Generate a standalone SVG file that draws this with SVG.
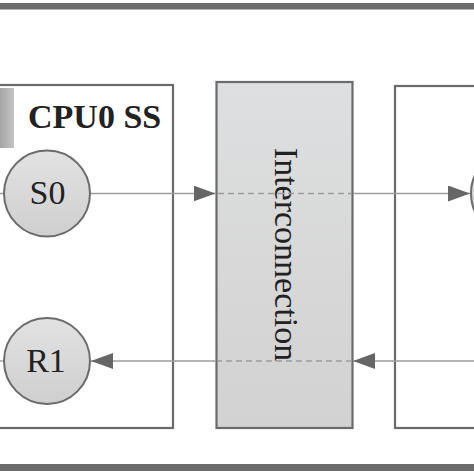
<svg xmlns="http://www.w3.org/2000/svg" width="474" height="474" viewBox="0 0 474 474">
<defs>
<linearGradient id="cg" x1="0" y1="0" x2="0" y2="1"><stop offset="0" stop-color="#e2e2e3"/><stop offset="1" stop-color="#cfcfd0"/></linearGradient>
<linearGradient id="ig" x1="0" y1="0" x2="0" y2="1"><stop offset="0" stop-color="#dedfe0"/><stop offset="1" stop-color="#d2d2d2"/></linearGradient>
<linearGradient id="tg" x1="0" y1="0" x2="1" y2="0"><stop offset="0" stop-color="#a5a5a5"/><stop offset="1" stop-color="#c4c4c4"/></linearGradient>
<marker id="ah" viewBox="0 0 22 16" refX="22" refY="8" markerWidth="22" markerHeight="16" markerUnits="userSpaceOnUse" orient="auto"><path d="M0,0 L22,8 L0,16 Z" fill="#666"/></marker>
<style>
.box{fill:#fff;stroke:#6b6b6b;stroke-width:2.2}
.node circle{fill:url(#cg);stroke:#6b6b6b;stroke-width:2}
.lbl{font-family:"Liberation Serif",serif;font-size:34px;fill:#222}
.ln{stroke:#9c9c9c;stroke-width:1.4;fill:none}
.dash{stroke:#9c9c9c;stroke-width:1.4;stroke-dasharray:6,4;fill:none}
.bar{fill:#6c6c6c}
</style>
</defs>
<rect class="bar" x="0" y="3" width="474" height="6.5"/>
<rect class="bar" x="0" y="464" width="474" height="7"/>
<g id="cpu0">
<rect class="box" x="-10" y="85" width="183" height="343"/>
<rect x="0" y="88" width="14" height="60" fill="url(#tg)"/>
<text class="lbl" x="28" y="128" font-weight="bold">CPU0 SS</text>
</g>
<g id="rightbox">
<rect class="box" x="395" y="86" width="100" height="342"/>
</g>
<g id="interconnection">
<rect x="216.5" y="82" width="136" height="346" fill="url(#ig)" stroke="#6b6b6b" stroke-width="2.2"/>
<text class="lbl" transform="translate(275,254.5) rotate(90)" text-anchor="middle">Interconnection</text>
</g>
<g id="connectors">
<line class="ln" x1="0" y1="193.5" x2="4" y2="193.5"/>
<line class="ln" x1="0" y1="361" x2="4" y2="361"/>
<line class="ln" x1="90" y1="193.5" x2="215.5" y2="193.5" marker-end="url(#ah)"/>
<line class="dash" x1="218" y1="193.5" x2="352" y2="193.5"/>
<line class="ln" x1="353" y1="193.5" x2="470" y2="193.5" marker-end="url(#ah)"/>
<line class="ln" x1="474" y1="361" x2="353" y2="361" marker-end="url(#ah)"/>
<line class="dash" x1="352" y1="361" x2="218" y2="361"/>
<line class="ln" x1="216" y1="361" x2="91" y2="361" marker-end="url(#ah)"/>
</g>
<g id="S0" class="node">
<circle cx="47" cy="193.5" r="43"/>
<text class="lbl" x="47.5" y="203.5" text-anchor="middle">S0</text>
</g>
<g id="R1" class="node">
<circle cx="47" cy="361" r="43"/>
<text class="lbl" x="46" y="371.5" text-anchor="middle">R1</text>
</g>
<g id="rightnode" class="node">
<circle cx="514" cy="193.5" r="43"/>
</g>
</svg>
